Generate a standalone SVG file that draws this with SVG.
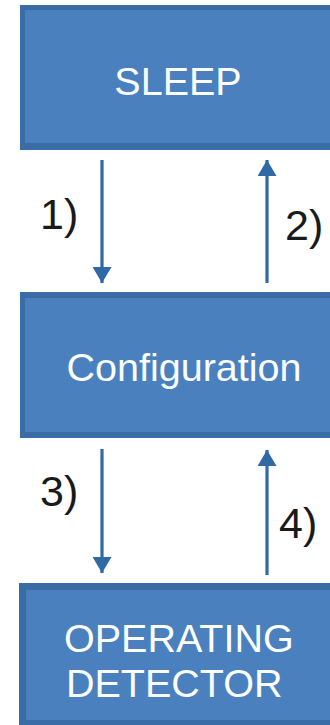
<svg xmlns="http://www.w3.org/2000/svg" width="330" height="725" viewBox="0 0 330 725">
<defs>
<style>
.outer{fill:#3a6ca6}
.inner{fill:#4a80be}
.t{font-family:"Liberation Sans",Arial,sans-serif;font-size:39.5px;fill:#fbfdff}
.lbl{font-family:"Liberation Sans",Arial,sans-serif;font-size:43px;fill:#1a1a1a}
.conn{stroke:#2f69a6;stroke-width:3.2;fill:none}
</style>
<marker id="ah" viewBox="0 0 16 19" refX="16" refY="9.5" markerWidth="16" markerHeight="19" markerUnits="userSpaceOnUse" orient="auto">
<path d="M0,0 L16,9.5 L0,19 Z" fill="#2f69a6"/>
</marker>
</defs>
<rect width="330" height="725" fill="#ffffff"/>
<g id="sleep">
<rect class="outer" x="20" y="5" width="320" height="145"/>
<rect class="inner" x="25" y="10" width="315" height="133"/>
<text class="t" x="178" y="95" text-anchor="middle">SLEEP</text>
</g>
<g id="configuration">
<rect class="outer" x="20" y="292" width="320" height="146"/>
<rect class="inner" x="25" y="298" width="315" height="134"/>
<text class="t" x="184" y="381" text-anchor="middle">Configuration</text>
</g>
<g id="operating-detector">
<rect class="outer" x="19" y="583" width="321" height="142"/>
<rect class="inner" x="26" y="590" width="314" height="130"/>
<text class="t" x="64" y="652">OPERATING</text>
<text class="t" x="66" y="697">DETECTOR</text>
</g>
<g id="connectors">
<line class="conn" x1="102" y1="160" x2="102" y2="283" marker-end="url(#ah)"/>
<line class="conn" x1="267" y1="283" x2="267" y2="160" marker-end="url(#ah)"/>
<line class="conn" x1="102" y1="449" x2="102" y2="573" marker-end="url(#ah)"/>
<line class="conn" x1="267" y1="575" x2="267" y2="450" marker-end="url(#ah)"/>
<text class="lbl" x="40" y="229">1)</text>
<text class="lbl" x="285" y="240">2)</text>
<text class="lbl" x="40" y="506">3)</text>
<text class="lbl" x="279" y="538">4)</text>
</g>
</svg>
